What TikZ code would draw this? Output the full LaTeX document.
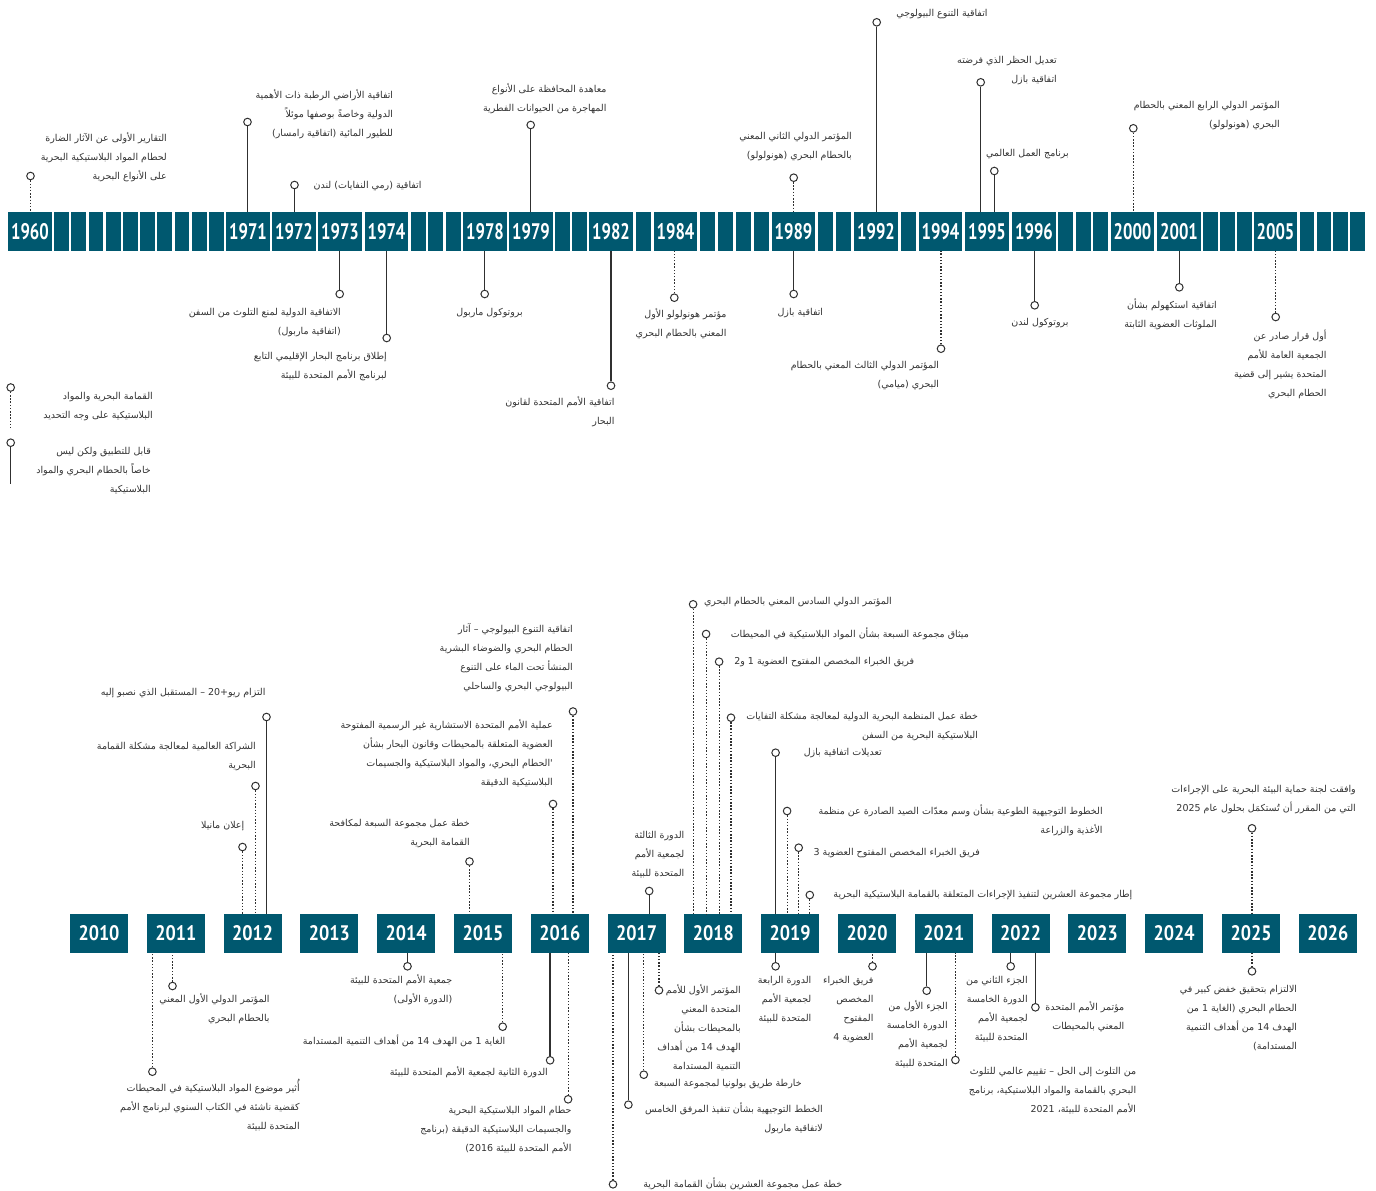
\documentclass[tikz,border=0pt]{standalone}
\usepackage{fontspec}
\usepackage{graphicx}
\TeXXeTstate=1
\newfontfamily\arabicfont[Script=Arabic]{DejaVu Sans}
\newfontfamily\yearfont{PT Sans}
\definecolor{barcol}{HTML}{00586F}
\definecolor{txt}{HTML}{333333}
\definecolor{ln}{HTML}{303030}
\newcommand{\AR}[1]{\vtop{\arabicfont\fontsize{9.5}{19}\selectfont\baselineskip=19pt\lineskiplimit=-50pt\lineskip=0pt\tabskip=0pt\let\\\cr\halign{\hfil##\cr#1\crcr}}}
\newcommand{\yrt}[1]{\scalebox{0.74}[1]{#1}}
\newcommand{\yrb}[1]{\scalebox{0.86}[1]{#1}}
\begin{document}
\begin{tikzpicture}[x=1pt,y=-1pt,
  ybox/.style={fill=barcol,minimum width=43.7pt,minimum height=39pt,inner sep=0pt,text=white,font=\yearfont\bfseries\fontsize{22.5}{22.5}\selectfont},
  bbox/.style={fill=barcol,minimum width=58pt,minimum height=39pt,inner sep=0pt,text=white,font=\yearfont\bfseries\fontsize{21}{21}\selectfont},
  ev/.style={circle,draw=ln,fill=white,line width=1pt,minimum size=7.6pt,inner sep=0pt},
  solidln/.style={draw=ln,line width=1.25pt},
  dotln/.style={draw=ln,line width=1.1pt,dash pattern=on 1.5pt off 1.7pt},
  lab/.style={anchor=base east,inner sep=0pt,text=txt,yshift=-3.5pt}]
\useasboundingbox (0,0) rectangle (1376,1191);
\fill[white] (0,0) rectangle (1376,1191);

% ---------- top bar ----------
\foreach \yy/\cx in {1960/30,1971/248,1972/294,1973/340,1974/386.5,1978/485,1979/531,1982/611,1984/675.5,1989/793.5,1992/876,1994/940.5,1995/987,1996/1034,2000/1132.5,2001/1179,2005/1275.5}
  \node[ybox] (y\yy) at (\cx,231.5) {\yrt{\yy}};
\foreach \a/\b/\n in {30/248/10,386.5/485/3,531/611/2,611/675.5/1,675.5/793.5/4,793.5/876/2,876/940.5/1,1034/1132.5/3,1179/1275.5/3,1275.5/1389.25/4}{
  \pgfmathsetmacro\g{(\b-\a-43.7-\n*14.8)/(\n+1)}
  \foreach \i in {1,...,\n}{
    \pgfmathsetmacro\l{\a+21.85+\i*\g+(\i-1)*14.8}
    \fill[barcol] (\l,212) rectangle ++(14.8,39);
  }
}

% ---------- top events ----------
\node[ev] (cT1) at (30.5,176) {};
\draw[dotln] (cT1) -- (cT1 |- y1960.north);
\node[lab] (tT1) at (167,138.3) {\AR{\beginR التقارير الأولى عن الآثار الضارة\endR\\\beginR لحطام المواد البلاستيكية البحرية\endR\\\beginR على الأنواع البحرية\endR}};

\node[ev] (cT2) at (247.5,122) {};
\draw[solidln] (cT2) -- (cT2 |- y1971.north);
\node[lab] (tT2) at (393.3,94.5) {\AR{\beginR اتفاقية الأراضي الرطبة ذات الأهمية\endR\\\beginR الدولية وخاصةً بوصفها موئلاً\endR\\\beginR للطيور المائية (اتفاقية رامسار)\endR}};

\node[ev] (cT3) at (294.5,185) {};
\draw[solidln] (cT3) -- (cT3 |- y1972.north);
\node[lab] (tT3) at (421.7,184.5) {\AR{\beginR اتفاقية (رمي النفايات) لندن\endR}};

\node[ev] (cT4) at (339.7,294) {};
\draw[solidln] (cT4) -- (cT4 |- y1973.south);
\node[lab] (tT4) at (341,311.5) {\AR{\beginR الاتفاقية الدولية لمنع التلوث من السفن\endR\\\beginR (اتفاقية ماربول)\endR}};

\node[ev] (cT5) at (386.7,338) {};
\draw[solidln] (cT5) -- (cT5 |- y1974.south);
\node[lab] (tT5) at (387,356) {\AR{\beginR إطلاق برنامج البحار الإقليمي التابع\endR\\\beginR لبرنامج الأمم المتحدة للبيئة\endR}};

\node[ev] (cT6) at (484.7,294) {};
\draw[solidln] (cT6) -- (cT6 |- y1978.south);
\node[lab] (tT6) at (523,312) {\AR{\beginR بروتوكول ماربول\endR}};

\node[ev] (cT7) at (530.7,125) {};
\draw[solidln] (cT7) -- (cT7 |- y1979.north);
\node[lab] (tT7) at (606.7,88.7) {\AR{\beginR معاهدة المحافظة على الأنواع\endR\\\beginR المهاجرة من الحيوانات الفطرية\endR}};

\node[ev] (cT8) at (611,385.7) {};
\draw[solidln] (cT8) -- (cT8 |- y1982.south);
\node[lab] (tT8) at (614.7,402.3) {\AR{\beginR اتفاقية الأمم المتحدة لقانون\endR\\\beginR البحار\endR}};

\node[ev] (cT9) at (674.3,297.7) {};
\draw[dotln] (cT9) -- (cT9 |- y1984.south);
\node[lab] (tT9) at (726.7,314) {\AR{\beginR مؤتمر هونولولو الأول\endR\\\beginR المعني بالحطام البحري\endR}};

\node[ev] (cT10) at (793.7,177.7) {};
\draw[dotln] (cT10) -- (cT10 |- y1989.north);
\node[lab] (tT10) at (852,136.3) {\AR{\beginR المؤتمر الدولي الثاني المعني\endR\\\beginR بالحطام البحري (هونولولو)\endR}};

\node[ev] (cT11) at (793.7,294) {};
\draw[solidln] (cT11) -- (cT11 |- y1989.south);
\node[lab] (tT11) at (823.3,312.3) {\AR{\beginR اتفاقية بازل\endR}};

\node[ev] (cT12) at (876.7,22.3) {};
\draw[solidln] (cT12) -- (cT12 |- y1992.north);
\node[lab] (tT12) at (987.7,12.7) {\AR{\beginR اتفاقية التنوع البيولوجي\endR}};

\node[ev] (cT13) at (941,348.7) {};
\draw[dotln] (cT13) -- (cT13 |- y1994.south);
\node[lab] (tT13) at (939.3,364.7) {\AR{\beginR المؤتمر الدولي الثالث المعني بالحطام\endR\\\beginR البحري (ميامي)\endR}};

\node[ev] (cT14) at (980.7,82.3) {};
\draw[solidln] (cT14) -- (cT14 |- y1995.north);
\node[lab] (tT14) at (1057,60) {\AR{\beginR تعديل الحظر الذي فرضته\endR\\\beginR اتفاقية بازل\endR}};

\node[ev] (cT15) at (994.3,171) {};
\draw[solidln] (cT15) -- (cT15 |- y1995.north);
\node[lab] (tT15) at (1069,153.3) {\AR{\beginR برنامج العمل العالمي\endR}};

\node[ev] (cT16) at (1034.7,305.3) {};
\draw[solidln] (cT16) -- (cT16 |- y1996.south);
\node[lab] (tT16) at (1068.7,322) {\AR{\beginR بروتوكول لندن\endR}};

\node[ev] (cT17) at (1133.3,128.3) {};
\draw[dotln] (cT17) -- (cT17 |- y2000.north);
\node[lab] (tT17) at (1280,104.7) {\AR{\beginR المؤتمر الدولي الرابع المعني بالحطام\endR\\\beginR البحري (هونولولو)\endR}};

\node[ev] (cT18) at (1179.3,287.3) {};
\draw[solidln] (cT18) -- (cT18 |- y2001.south);
\node[lab] (tT18) at (1217,305) {\AR{\beginR اتفاقية استكهولم بشأن\endR\\\beginR الملوثات العضوية الثابتة\endR}};

\node[ev] (cT19) at (1275.7,317) {};
\draw[dotln] (cT19) -- (cT19 |- y2005.south);
\node[lab] (tT19) at (1326.7,335.7) {\AR{\beginR أول قرار صادر عن\endR\\\beginR الجمعية العامة للأمم\endR\\\beginR المتحدة يشير إلى قضية\endR\\\beginR الحطام البحري\endR}};

% ---------- legend ----------
\node[ev] (cL1) at (10.7,387.5) {};
\coordinate (eL1) at (10.7,428);
\draw[dotln] (cL1) -- (eL1);
\node[lab] (tL1) at (153,395.7) {\AR{\beginR القمامة البحرية والمواد\endR\\\beginR البلاستيكية على وجه التحديد\endR}};

\node[ev] (cL2) at (10.7,442.7) {};
\coordinate (eL2) at (10.7,484.3);
\draw[solidln] (cL2) -- (eL2);
\node[lab] (tL2) at (151,450.7) {\AR{\beginR قابل للتطبيق ولكن ليس\endR\\\beginR خاصاً بالحطام البحري والمواد\endR\\\beginR البلاستيكية\endR}};

% ---------- bottom bar ----------
\foreach \yy [count=\k from 0] in {2010,...,2026}
  \node[bbox] (y\yy) at ({99+76.8*\k},933.5) {\yrb{\yy}};

% ---------- bottom events, above ----------
\node[ev] (cB1) at (266.5,717) {};
\draw[solidln] (cB1) -- (cB1 |- y2012.north);
\node[lab] (tB1) at (265.6,692.3) {\AR{\beginR التزام ريو+20 – المستقبل الذي نصبو إليه\endR}};

\node[ev] (cB2) at (255.5,786) {};
\draw[dotln] (cB2) -- (cB2 |- y2012.north);
\node[lab] (tB2) at (256,746) {\AR{\beginR الشراكة العالمية لمعالجة مشكلة القمامة\endR\\\beginR البحرية\endR}};

\node[ev] (cB3) at (242.5,847) {};
\draw[dotln] (cB3) -- (cB3 |- y2012.north);
\node[lab] (tB3) at (244.5,825.3) {\AR{\beginR إعلان مانيلا\endR}};

\node[ev] (cB4) at (469.5,861.5) {};
\draw[dotln] (cB4) -- (cB4 |- y2015.north);
\node[lab] (tB4) at (470,822.7) {\AR{\beginR خطة عمل مجموعة السبعة لمكافحة\endR\\\beginR القمامة البحرية\endR}};

\node[ev] (cB5) at (553,804) {};
\draw[dotln] (cB5) -- (cB5 |- y2016.north);
\node[lab] (tB5) at (553,725) {\AR{\beginR عملية الأمم المتحدة الاستشارية غير الرسمية المفتوحة\endR\\\beginR العضوية المتعلقة بالمحيطات وقانون البحار بشأن\endR\\\beginR 'الحطام البحري، والمواد البلاستيكية والجسيمات\endR\\\beginR البلاستيكية الدقيقة\endR}};

\node[ev] (cB6) at (573,711.5) {};
\draw[dotln] (cB6) -- (cB6 |- y2016.north);
\node[lab] (tB6) at (573,628.7) {\AR{\beginR اتفاقية التنوع البيولوجي – آثار\endR\\\beginR الحطام البحري والضوضاء البشرية\endR\\\beginR المنشأ تحت الماء على التنوع\endR\\\beginR البيولوجي البحري والساحلي\endR}};

\node[ev] (cB7) at (649.2,891) {};
\draw[solidln] (cB7) -- (cB7 |- y2017.north);
\node[lab] (tB7) at (684.5,835) {\AR{\beginR الدورة الثالثة\endR\\\beginR لجمعية الأمم\endR\\\beginR المتحدة للبيئة\endR}};

\node[ev] (cB8) at (693.1,604.3) {};
\draw[dotln] (cB8) -- (cB8 |- y2018.north);
\node[lab] (tB8) at (892,600.7) {\AR{\beginR المؤتمر الدولي السادس المعني بالحطام البحري\endR}};

\node[ev] (cB9) at (706.1,634) {};
\draw[dotln] (cB9) -- (cB9 |- y2018.north);
\node[lab] (tB9) at (969,634.3) {\AR{\beginR ميثاق مجموعة السبعة بشأن المواد البلاستيكية في المحيطات\endR}};

\node[ev] (cB10) at (719.1,661.7) {};
\draw[dotln] (cB10) -- (cB10 |- y2018.north);
\node[lab] (tB10) at (914.3,661) {\AR{\beginR فريق الخبراء المخصص المفتوح العضوية 1 و2\endR}};

\node[ev] (cB11) at (731,717.7) {};
\draw[dotln] (cB11) -- (cB11 |- y2018.north);
\node[lab] (tB11) at (978.2,715.7) {\AR{\beginR خطة عمل المنظمة البحرية الدولية لمعالجة مشكلة التفايات\endR\\\beginR البلاستيكية البحرية من السفن\endR}};

\node[ev] (cB12) at (775.6,752.7) {};
\draw[solidln] (cB12) -- (cB12 |- y2019.north);
\node[lab] (tB12) at (882,751.7) {\AR{\beginR تعديلات اتفاقية بازل\endR}};

\node[ev] (cB13) at (787.1,811) {};
\draw[dotln] (cB13) -- (cB13 |- y2019.north);
\node[lab] (tB13) at (1102.8,811) {\AR{\beginR الخطوط التوجيهية الطوعية بشأن وسم معدّات الصيد الصادرة عن منظمة\endR\\\beginR الأغذية والزراعة\endR}};

\node[ev] (cB14) at (798.7,847.7) {};
\draw[dotln] (cB14) -- (cB14 |- y2019.north);
\node[lab] (tB14) at (980,852.3) {\AR{\beginR فريق الخبراء المخصص المفتوح العضوية 3\endR}};

\node[ev] (cB15) at (809.8,895) {};
\draw[dotln] (cB15) -- (cB15 |- y2019.north);
\node[lab] (tB15) at (1132.5,894) {\AR{\beginR إطار مجموعة العشرين لتنفيذ الإجراءات المتعلقة بالقمامة البلاستيكية البحرية\endR}};

\node[ev] (cB16) at (1252,828.3) {};
\draw[dotln] (cB16) -- (cB16 |- y2025.north);
\node[lab] (tB16) at (1356,789) {\AR{\beginR وافقت لجنة حماية البيئة البحرية على الإجراءات\endR\\\beginR التي من المقرر أن تُستكمَل بحلول عام 2025\endR}};

% ---------- bottom events, below ----------
\node[ev] (cB17) at (152.4,1071.7) {};
\draw[dotln] (cB17) -- (cB17 |- y2011.south);
\node[lab] (tB17) at (299.9,1087.7) {\AR{\beginR أُثير موضوع المواد البلاستيكية في المحيطات\endR\\\beginR كقضية ناشئة في الكتاب السنوي لبرنامج الأمم\endR\\\beginR المتحدة للبيئة\endR}};

\node[ev] (cB18) at (172.5,986) {};
\draw[dotln] (cB18) -- (cB18 |- y2011.south);
\node[lab] (tB18) at (269.8,999.3) {\AR{\beginR المؤتمر الدولي الأول المعني\endR\\\beginR بالحطام البحري\endR}};

\node[ev] (cB19) at (407.5,966.3) {};
\draw[solidln] (cB19) -- (cB19 |- y2014.south);
\node[lab] (tB19) at (452.5,980.3) {\AR{\beginR جمعية الأمم المتحدة للبيئة\endR\\\beginR (الدورة الأولى)\endR}};

\node[ev] (cB20) at (502.7,1026.7) {};
\draw[dotln] (cB20) -- (cB20 |- y2015.south);
\node[lab] (tB20) at (505.5,1041.3) {\AR{\beginR الغاية 1 من الهدف 14 من أهداف التنمية المستدامة\endR}};

\node[ev] (cB21) at (550.1,1060.3) {};
\draw[solidln] (cB21) -- (cB21 |- y2016.south);
\node[lab] (tB21) at (548,1071.7) {\AR{\beginR الدورة الثانية لجمعية الأمم المتحدة للبيئة\endR}};

\node[ev] (cB22) at (568.1,1099.3) {};
\draw[dotln] (cB22) -- (cB22 |- y2016.south);
\node[lab] (tB22) at (571.6,1110) {\AR{\beginR حطام المواد البلاستيكية البحرية\endR\\\beginR والجسيمات البلاستيكية الدقيقة (برنامج\endR\\\beginR الأمم المتحدة للبيئة 2016)\endR}};

\node[ev] (cB23) at (613,1184.3) {};
\draw[dotln] (cB23) -- (cB23 |- y2017.south);
\node[lab] (tB23) at (842.3,1184.3) {\AR{\beginR خطة عمل مجموعة العشرين بشأن القمامة البحرية\endR}};

\node[ev] (cB24) at (628.4,1104.7) {};
\draw[solidln] (cB24) -- (cB24 |- y2017.south);
\node[lab] (tB24) at (823,1109.3) {\AR{\beginR الخطط التوجيهية بشأن تنفيذ المرفق الخامس\endR\\\beginR لاتفاقية ماربول\endR}};

\node[ev] (cB25) at (643.8,1074.7) {};
\draw[dotln] (cB25) -- (cB25 |- y2017.south);
\node[lab] (tB25) at (801.8,1082.7) {\AR{\beginR خارطة طريق بولونيا لمجموعة السبعة\endR}};

\node[ev] (cB26) at (659,990.3) {};
\draw[dotln] (cB26) -- (cB26 |- y2017.south);
\node[lab] (tB26) at (741,990) {\AR{\beginR المؤتمر الأول للأمم\endR\\\beginR المتحدة المعني\endR\\\beginR بالمحيطات بشأن\endR\\\beginR الهدف 14 من أهداف\endR\\\beginR التنمية المستدامة\endR}};

\node[ev] (cB27) at (775.6,966.3) {};
\draw[solidln] (cB27) -- (cB27 |- y2019.south);
\node[lab] (tB27) at (811.5,980.3) {\AR{\beginR الدورة الرابعة\endR\\\beginR لجمعية الأمم\endR\\\beginR المتحدة للبيئة\endR}};

\node[ev] (cB28) at (872.5,966.3) {};
\draw[dotln] (cB28) -- (cB28 |- y2020.south);
\node[lab] (tB28) at (873.6,980.3) {\AR{\beginR فريق الخبراء\endR\\\beginR المخصص\endR\\\beginR المفتوح\endR\\\beginR العضوية 4\endR}};

\node[ev] (cB29) at (926.7,990.7) {};
\draw[solidln] (cB29) -- (cB29 |- y2021.south);
\node[lab] (tB29) at (947.9,1005.7) {\AR{\beginR الجزء الأول من\endR\\\beginR الدورة الخامسة\endR\\\beginR لجمعية الأمم\endR\\\beginR المتحدة للبيئة\endR}};

\node[ev] (cB30) at (955.4,1060) {};
\draw[dotln] (cB30) -- (cB30 |- y2021.south);
\node[lab] (tB30) at (1136.3,1070.7) {\AR{\beginR من التلوث إلى الحل – تقييم عالمي للتلوث\endR\\\beginR البحري بالقمامة والمواد البلاستيكية، برنامج\endR\\\beginR الأمم المتحدة للبيئة، 2021\endR}};

\node[ev] (cB31) at (1010.7,966.3) {};
\draw[solidln] (cB31) -- (cB31 |- y2022.south);
\node[lab] (tB31) at (1027.9,980.3) {\AR{\beginR الجزء الثاني من\endR\\\beginR الدورة الخامسة\endR\\\beginR لجمعية الأمم\endR\\\beginR المتحدة للبيئة\endR}};

\node[ev] (cB32) at (1035.4,1007.3) {};
\draw[solidln] (cB32) -- (cB32 |- y2022.south);
\node[lab] (tB32) at (1124.5,1007.3) {\AR{\beginR مؤتمر الأمم المتحدة\endR\\\beginR المعني بالمحيطات\endR}};

\node[ev] (cB33) at (1252,971.3) {};
\draw[dotln] (cB33) -- (cB33 |- y2025.south);
\node[lab] (tB33) at (1297.3,989) {\AR{\beginR الالتزام بتحقيق خفض كبير في\endR\\\beginR الحطام البحري (الغاية 1 من\endR\\\beginR الهدف 14 من أهداف التنمية\endR\\\beginR المستدامة)\endR}};
\end{tikzpicture}
\end{document}
